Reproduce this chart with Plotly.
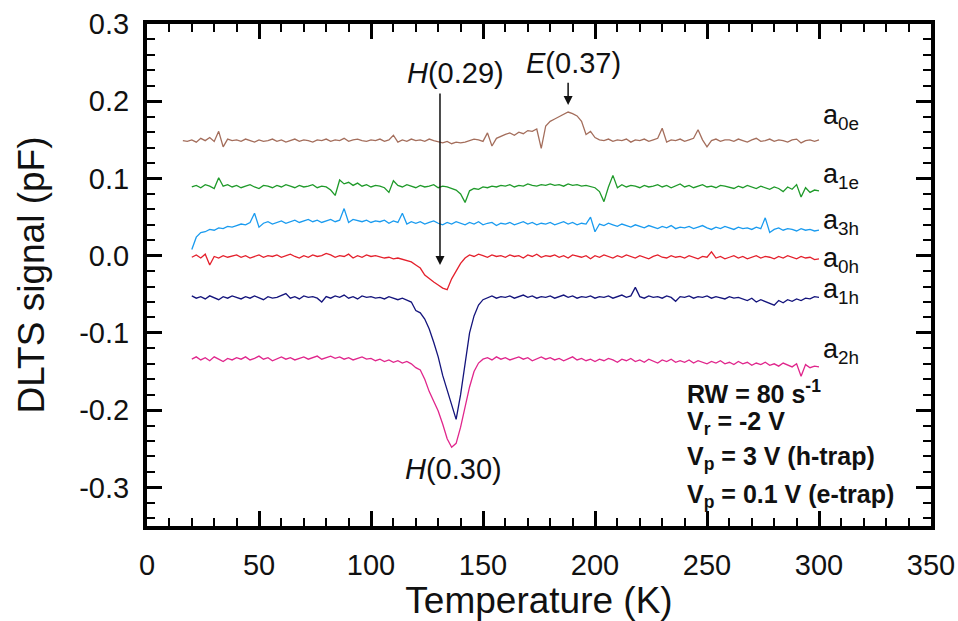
import plotly.graph_objects as go

# ---------------- data ----------------
temp = list(range(20, 301, 2))          # K, shared grid
temp_a0e = [16, 18] + temp

a0e = [0.149, 0.148,
       0.150, 0.147, 0.152, 0.149, 0.153, 0.148, 0.161, 0.141, 0.151, 0.149,
       0.150, 0.148, 0.151, 0.149, 0.147, 0.150, 0.148, 0.149, 0.151, 0.148,
       0.150, 0.147, 0.149, 0.151, 0.148, 0.150, 0.149, 0.147, 0.150, 0.149,
       0.151, 0.148, 0.150, 0.149, 0.152, 0.148, 0.150, 0.151, 0.149, 0.148,
       0.150, 0.149, 0.151, 0.148, 0.150, 0.156, 0.147, 0.150, 0.148, 0.151,
       0.149, 0.150, 0.148, 0.151, 0.149, 0.147, 0.146, 0.148, 0.145, 0.147,
       0.146, 0.147, 0.149, 0.151, 0.150, 0.148, 0.159, 0.142, 0.152, 0.155,
       0.157, 0.159, 0.156, 0.160, 0.158, 0.162, 0.161, 0.164, 0.139, 0.168,
       0.174, 0.177, 0.180, 0.183, 0.186, 0.184, 0.181, 0.174, 0.157, 0.161,
       0.153, 0.150, 0.149, 0.151, 0.148, 0.150, 0.149, 0.151, 0.147, 0.150,
       0.149, 0.151, 0.148, 0.150, 0.152, 0.165, 0.147, 0.150, 0.149, 0.151,
       0.148, 0.150, 0.152, 0.163, 0.150, 0.141, 0.149, 0.151, 0.148, 0.150,
       0.150, 0.148, 0.151, 0.149, 0.147, 0.150, 0.152, 0.148, 0.149, 0.151,
       0.148, 0.150, 0.149, 0.147, 0.150, 0.151, 0.146, 0.149, 0.150, 0.148,
       0.150]

a1e = [0.089, 0.091, 0.088, 0.092, 0.090, 0.087, 0.101, 0.090, 0.092, 0.089,
       0.091, 0.088, 0.090, 0.092, 0.089, 0.087, 0.091, 0.090, 0.088, 0.091,
       0.089, 0.092, 0.090, 0.088, 0.091, 0.089, 0.090, 0.092, 0.088, 0.090,
       0.089, 0.085, 0.078, 0.098, 0.093, 0.095, 0.091, 0.094, 0.090, 0.092,
       0.089, 0.091, 0.090, 0.088, 0.082, 0.097, 0.091, 0.089, 0.092, 0.090,
       0.088, 0.091, 0.089, 0.090, 0.092, 0.088, 0.090, 0.089, 0.087, 0.085,
       0.080, 0.069, 0.084, 0.087, 0.086, 0.089, 0.088, 0.090, 0.089, 0.091,
       0.090, 0.092, 0.089, 0.091, 0.090, 0.093, 0.091, 0.090, 0.092, 0.091,
       0.093, 0.091, 0.092, 0.090, 0.093, 0.091, 0.092, 0.090, 0.091, 0.089,
       0.088, 0.083, 0.070, 0.089, 0.104, 0.088, 0.092, 0.089, 0.091, 0.090,
       0.088, 0.091, 0.089, 0.090, 0.092, 0.089, 0.091, 0.088, 0.090, 0.093,
       0.089, 0.091, 0.088, 0.090, 0.092, 0.089, 0.090, 0.088, 0.091, 0.090,
       0.089, 0.087, 0.090, 0.088, 0.091, 0.089, 0.087, 0.090, 0.088, 0.086,
       0.089, 0.087, 0.083, 0.089, 0.086, 0.092, 0.076, 0.088, 0.082, 0.085,
       0.084]

a3h = [0.008, 0.024, 0.030, 0.031, 0.034, 0.033, 0.036, 0.035, 0.038, 0.037,
       0.039, 0.041, 0.040, 0.043, 0.055, 0.037, 0.042, 0.044, 0.041, 0.043,
       0.045, 0.042, 0.044, 0.046, 0.043, 0.045, 0.047, 0.044, 0.046, 0.043,
       0.045, 0.047, 0.044, 0.046, 0.061, 0.043, 0.047, 0.045, 0.044, 0.046,
       0.043, 0.045, 0.044, 0.046, 0.042, 0.045, 0.043, 0.055, 0.041, 0.044,
       0.042, 0.044, 0.041, 0.043, 0.045, 0.042, 0.040, 0.043, 0.041, 0.044,
       0.042, 0.040, 0.043, 0.041, 0.044, 0.040, 0.042, 0.043, 0.039, 0.042,
       0.041, 0.043, 0.040, 0.042, 0.044, 0.041, 0.043, 0.040, 0.042, 0.041,
       0.043, 0.040, 0.042, 0.044, 0.041, 0.043, 0.040, 0.042, 0.041, 0.050,
       0.031, 0.041, 0.039, 0.042, 0.040, 0.038, 0.041, 0.039, 0.037, 0.040,
       0.038, 0.036, 0.039, 0.037, 0.035, 0.038, 0.036, 0.039, 0.035, 0.037,
       0.036, 0.038, 0.035, 0.037, 0.039, 0.036, 0.034, 0.037, 0.035, 0.038,
       0.036, 0.034, 0.037, 0.035, 0.036, 0.034, 0.037, 0.035, 0.049, 0.030,
       0.034, 0.036, 0.033, 0.035, 0.034, 0.032, 0.035, 0.033, 0.034, 0.032,
       0.033]

a0h = [-0.002, 0.001, -0.003, 0.002, -0.012, -0.001, -0.003, 0.000, -0.002, -0.001,
       0.001, -0.002, 0.000, -0.003, -0.001, 0.001, -0.002, 0.000, -0.001, 0.001,
       -0.002, 0.000, 0.002, -0.001, -0.003, 0.000, -0.002, 0.001, -0.001, 0.000,
       0.003, 0.001, -0.002, 0.000, -0.001, 0.002, -0.003, 0.000, -0.002, 0.001,
       -0.001, 0.000, -0.002, -0.003, -0.002, -0.004, -0.003, -0.005, -0.006, -0.008,
       -0.012, -0.016, -0.025, -0.030, -0.034, -0.038, -0.042, -0.044, -0.030, -0.020,
       -0.010, -0.003, 0.001, -0.001, 0.002, 0.000, -0.002, 0.001, -0.001, 0.000,
       -0.002, 0.001, -0.001, 0.000, -0.003, 0.001, -0.001, 0.002, -0.002, 0.000,
       -0.001, 0.001, -0.002, 0.000, -0.003, 0.001, -0.001, -0.002, 0.000, -0.004,
       0.000, -0.002, 0.001, -0.001, -0.003, 0.000, -0.002, 0.001, -0.001, -0.003,
       0.000, -0.002, -0.004, -0.001, 0.001, -0.002, -0.003, 0.000, -0.002, -0.001,
       -0.003, 0.000, -0.002, -0.004, -0.001, -0.002, 0.005, -0.003, -0.001, -0.004,
       -0.002, 0.000, -0.003, -0.001, -0.004, -0.002, 0.000, -0.003, -0.001, -0.002,
       -0.004, -0.001, -0.003, 0.000, -0.002, -0.004, -0.001, -0.003, -0.002, -0.005,
       -0.004]

a1h = [-0.052, -0.055, -0.053, -0.056, -0.052, -0.054, -0.057, -0.053, -0.055, -0.052,
       -0.054, -0.056, -0.053, -0.055, -0.052, -0.054, -0.057, -0.053, -0.055, -0.054,
       -0.052, -0.049, -0.055, -0.053, -0.056, -0.052, -0.054, -0.053, -0.055, -0.060,
       -0.053, -0.055, -0.052, -0.054, -0.051, -0.055, -0.053, -0.056, -0.052, -0.054,
       -0.053, -0.055, -0.054, -0.056, -0.053, -0.055, -0.057, -0.055, -0.058, -0.060,
       -0.071, -0.074, -0.082, -0.095, -0.112, -0.131, -0.155, -0.174, -0.191, -0.212,
       -0.180, -0.140, -0.100, -0.078, -0.064, -0.057, -0.054, -0.052, -0.055, -0.053,
       -0.054, -0.052, -0.055, -0.053, -0.051, -0.054, -0.052, -0.055, -0.053, -0.054,
       -0.052, -0.055, -0.053, -0.051, -0.054, -0.052, -0.055, -0.053, -0.054, -0.052,
       -0.055, -0.053, -0.054, -0.052, -0.055, -0.053, -0.051, -0.054, -0.052, -0.041,
       -0.053, -0.055, -0.052, -0.054, -0.053, -0.055, -0.052, -0.054, -0.059, -0.053,
       -0.054, -0.052, -0.055, -0.053, -0.054, -0.052, -0.055, -0.053, -0.054, -0.056,
       -0.053, -0.055, -0.054, -0.056, -0.058, -0.055, -0.060, -0.057, -0.059, -0.062,
       -0.064, -0.058, -0.061, -0.057, -0.059, -0.056, -0.058, -0.055, -0.056, -0.053,
       -0.054]

a2h = [-0.134, -0.131, -0.135, -0.132, -0.136, -0.131, -0.134, -0.137, -0.133, -0.135,
       -0.132, -0.134, -0.131, -0.135, -0.133, -0.130, -0.134, -0.132, -0.136, -0.133,
       -0.131, -0.134, -0.132, -0.135, -0.133, -0.131, -0.134, -0.132, -0.130, -0.134,
       -0.132, -0.130, -0.133, -0.131, -0.134, -0.132, -0.135, -0.133, -0.131, -0.134,
       -0.133, -0.136, -0.134, -0.137, -0.135, -0.138, -0.136, -0.139, -0.137, -0.140,
       -0.145, -0.148, -0.160, -0.176, -0.189, -0.201, -0.218, -0.237, -0.248, -0.243,
       -0.222, -0.196, -0.170, -0.150, -0.139, -0.134, -0.132, -0.135, -0.131, -0.134,
       -0.132, -0.135, -0.133, -0.131, -0.134, -0.132, -0.136, -0.133, -0.131, -0.134,
       -0.132, -0.135, -0.133, -0.136, -0.134, -0.131, -0.135, -0.133, -0.136, -0.134,
       -0.137, -0.134, -0.136, -0.133, -0.135, -0.138, -0.134, -0.136, -0.133, -0.137,
       -0.135, -0.138, -0.134, -0.136, -0.139, -0.135, -0.137, -0.134, -0.138, -0.136,
       -0.138, -0.135, -0.139, -0.136, -0.138, -0.140, -0.137, -0.139, -0.136, -0.140,
       -0.138, -0.141, -0.137, -0.140, -0.138, -0.142, -0.139, -0.141, -0.138, -0.142,
       -0.140, -0.143, -0.139, -0.142, -0.144, -0.140, -0.156, -0.141, -0.145, -0.143,
       -0.144]

series = [
    ("a0e", temp_a0e, a0e, "#a46e5c", "0e", 0.179),
    ("a1e", temp, a1e, "#1f9a2a", "1e", 0.103),
    ("a3h", temp, a3h, "#1a9bef", "3h", 0.043),
    ("a0h", temp, a0h, "#e4202c", "0h", -0.005),
    ("a1h", temp, a1h, "#14147c", "1h", -0.046),
    ("a2h", temp, a2h, "#e0268c", "2h", -0.124),
]

y_ticks = [0.3, 0.2, 0.1, 0.0, -0.1, -0.2, -0.3]
y_tick_text = ["0.3", "0.2", "0.1", "0.0", "-0.1", "-0.2", "-0.3"]
x_ticks = [0, 50, 100, 150, 200, 250, 300, 350]

info_lines = [
    ("<b>RW = 80 s<sup>-1</sup></b>", -0.177),
    ("<b>V<sub>r</sub> = -2 V</b>", -0.217),
    ("<b>V<sub>p</sub> = 3 V (h-trap)</b>", -0.262),
    ("<b>V<sub>p</sub> = 0.1 V (e-trap)</b>", -0.311),
]

FONT = "Liberation Sans, Arial, sans-serif"

fig = go.Figure()
for name, t, v, col, sub, ylab in series:
    fig.add_trace(go.Scatter(x=t, y=v, mode="lines", name=name,
                             line=dict(color=col, width=1.3), showlegend=False))

annotations = []
for name, t, v, col, sub, ylab in series:
    annotations.append(dict(x=301, y=ylab, xref="x", yref="y",
                            text="a<sub>%s</sub>" % sub, showarrow=False,
                            xanchor="left", yanchor="middle",
                            font=dict(family=FONT, size=27, color="#111")))

# peak markers
annotations += [
    dict(x=130.8, y=-0.012, ax=130.8, ay=0.212, xref="x", yref="y", axref="x", ayref="y",
         text="", showarrow=True, arrowhead=2, arrowsize=1.2, arrowwidth=1.5, arrowcolor="#111"),
    dict(x=137.5, y=0.236, xref="x", yref="y", text="<i>H</i>(0.29)", showarrow=False,
         font=dict(family=FONT, size=29, color="#111")),
    dict(x=188, y=0.195, ax=188, ay=0.226, xref="x", yref="y", axref="x", ayref="y",
         text="", showarrow=True, arrowhead=2, arrowsize=1.2, arrowwidth=1.5, arrowcolor="#111"),
    dict(x=190.5, y=0.250, xref="x", yref="y", text="<i>E</i>(0.37)", showarrow=False,
         font=dict(family=FONT, size=29, color="#111")),
    dict(x=137, y=-0.276, xref="x", yref="y", text="<i>H</i>(0.30)", showarrow=False,
         font=dict(family=FONT, size=29, color="#111")),
]
for txt, yy in info_lines:
    annotations.append(dict(x=240, y=yy, xref="x", yref="y", text=txt, showarrow=False,
                            xanchor="left", yanchor="middle",
                            font=dict(family=FONT, size=25, color="#111")))

axis_common = dict(
    showline=True, linecolor="black", linewidth=4, mirror="allticks",
    ticks="inside", ticklen=15, tickwidth=3, tickcolor="black",
    showgrid=False, zeroline=False, automargin=False,
    tickfont=dict(family=FONT, size=29, color="#111"),
)

fig.update_layout(
    width=958, height=621,
    margin=dict(l=147, r=27, t=24, b=95),
    paper_bgcolor="white", plot_bgcolor="white",
    xaxis=dict(range=[0, 350], tickvals=x_ticks, ticklabelstandoff=10,
               minor=dict(dtick=10, ticks="inside", ticklen=8, tickwidth=2, tickcolor="black"),
               title=dict(text="Temperature (K)", font=dict(family=FONT, size=37, color="#111"),
                          standoff=14),
               **axis_common),
    yaxis=dict(range=[-0.35, 0.3], tickvals=y_ticks, ticktext=y_tick_text, ticklabelstandoff=8,
               minor=dict(tick0=0, dtick=0.02, ticks="inside", ticklen=8, tickwidth=2, tickcolor="black"),
               title=dict(text="DLTS signal (pF)", font=dict(family=FONT, size=37, color="#111"),
                          standoff=24),
               **axis_common),
    annotations=annotations,
)

fig.write_html("out.html")
